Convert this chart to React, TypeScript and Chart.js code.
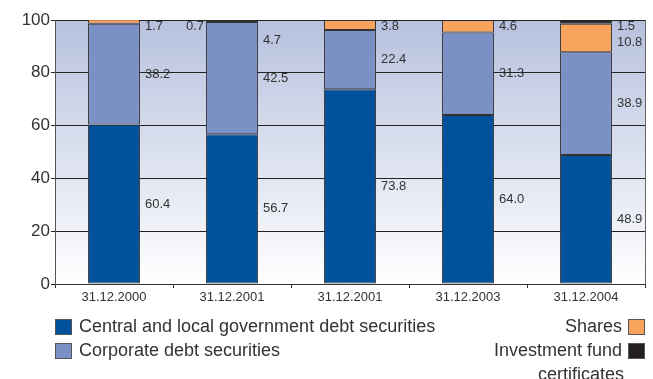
import React, { useEffect, useRef } from "react";
import { Chart, registerables } from "chart.js";

Chart.register(...registerables);

const categories = ["31.12.2000", "31.12.2001", "31.12.2001", "31.12.2003", "31.12.2004"];
const govDebt = [60.4, 56.7, 73.8, 64.0, 48.9];
const corpDebt = [38.2, 42.5, 22.4, 31.3, 38.9];
const shares = [1.7, 0.7, 3.8, 4.6, 10.8];
const fundCerts: (number | null)[] = [null, null, null, null, 1.5];
const extraNotes: (string | null)[] = [null, "4.7", null, null, null];
const shareLabelOnLeft = [false, true, false, false, false];

const seriesNames = [
  "Central and local government debt securities",
  "Corporate debt securities",
  "Shares",
  "Investment fund certificates",
];
const seriesColors = ["#02519b", "#7b91c5", "#f7a35c", "#231f20"];

const FONT = '"Liberation Sans", Arial, sans-serif';
const TEXT = "#333333";

const backgroundPlugin = {
  id: "bgGradient",
  beforeDraw(chart: any) {
    const { ctx, chartArea } = chart;
    const g = ctx.createLinearGradient(0, chartArea.top, 0, chartArea.bottom);
    g.addColorStop(0, "#b7c1de");
    g.addColorStop(1, "#ffffff");
    ctx.save();
    ctx.fillStyle = g;
    ctx.fillRect(chartArea.left, chartArea.top, chartArea.right - chartArea.left, chartArea.bottom - chartArea.top);
    ctx.restore();
  },
  afterDraw(chart: any) {
    const { ctx, chartArea } = chart;
    ctx.save();
    ctx.strokeStyle = "#666";
    ctx.lineWidth = 1;
    ctx.beginPath();
    ctx.moveTo(chartArea.right + 0.5, chartArea.top);
    ctx.lineTo(chartArea.right + 0.5, chartArea.bottom);
    ctx.stroke();
    ctx.restore();
  },
};

const valueLabelPlugin = {
  id: "valueLabels",
  afterDatasetsDraw(chart: any) {
    const { ctx, chartArea } = chart;
    ctx.save();
    ctx.font = `13px ${FONT}`;
    ctx.fillStyle = TEXT;
    ctx.textBaseline = "middle";
    const nDs = chart.data.datasets.length;
    for (let i = 0; i < categories.length; i++) {
      let prev = -Infinity;
      for (let d = nDs - 1; d >= 0; d--) {
        const v = chart.data.datasets[d].data[i];
        if (v === null || v === undefined) continue;
        const bar = chart.getDatasetMeta(d).data[i];
        const center = (bar.y + bar.base) / 2;
        let y = Math.max(center, chartArea.top + 6, prev + 16);
        prev = y;
        const text = Number(v).toFixed(1);
        const left = d === 2 && shareLabelOnLeft[i];
        if (left) {
          ctx.textAlign = "right";
          ctx.fillText(text, bar.x - bar.width / 2 - 2, y);
        } else {
          ctx.textAlign = "left";
          ctx.fillText(text, bar.x + bar.width / 2 + 5, y);
        }
        if (d === 2 && extraNotes[i]) {
          y = Math.max(center, chartArea.top + 6, prev + 14);
          prev = y;
          ctx.textAlign = "left";
          ctx.fillText(extraNotes[i] as string, bar.x + bar.width / 2 + 5, y);
        }
      }
    }
    ctx.restore();
  },
};

const legendPlugin = {
  id: "customLegend",
  afterDraw(chart: any) {
    const { ctx } = chart;
    ctx.save();
    ctx.font = `18px ${FONT}`;
    ctx.fillStyle = TEXT;
    ctx.textBaseline = "middle";
    const rowY = [327, 351];
    const box = (x: number, y: number, color: string) => {
      ctx.fillStyle = color;
      ctx.fillRect(x, y - 8, 17, 16);
      ctx.strokeStyle = "#555";
      ctx.lineWidth = 1;
      ctx.strokeRect(x + 0.5, y - 7.5, 16, 15);
      ctx.fillStyle = TEXT;
    };
    for (let k = 0; k < 2; k++) {
      box(55, rowY[k], seriesColors[k]);
      ctx.textAlign = "left";
      ctx.fillText(seriesNames[k], 79, rowY[k]);
    }
    box(628, rowY[0], seriesColors[2]);
    ctx.textAlign = "right";
    ctx.fillText(seriesNames[2], 622, rowY[0]);
    box(628, rowY[1], seriesColors[3]);
    const words = seriesNames[3].split(" ");
    ctx.fillText(words.slice(0, 2).join(" "), 622, rowY[1]);
    ctx.fillText(words.slice(2).join(" "), 624, rowY[1] + 24);
    ctx.restore();
  },
};

export default function App() {
  const canvasRef = useRef<HTMLCanvasElement | null>(null);

  useEffect(() => {
    if (!canvasRef.current) return;
    const mk = (label: string, data: (number | null)[], color: string) => ({
      label,
      data,
      backgroundColor: color,
      borderColor: "#333333",
      borderWidth: 1,
      borderSkipped: false,
      categoryPercentage: 1,
      barPercentage: 0.44,
    });
    const chart = new Chart(canvasRef.current, {
      type: "bar",
      data: {
        labels: categories,
        datasets: [
          mk(seriesNames[0], govDebt, seriesColors[0]),
          mk(seriesNames[1], corpDebt, seriesColors[1]),
          mk(seriesNames[2], shares, seriesColors[2]),
          mk(seriesNames[3], fundCerts, seriesColors[3]),
        ] as any,
      },
      options: {
        animation: false,
        responsive: false,
        devicePixelRatio: 1,
        layout: { padding: { top: 20, right: 8, left: 0, bottom: 0 } },
        plugins: {
          legend: { display: false },
          tooltip: { enabled: false },
        },
        scales: {
          x: {
            stacked: true,
            offset: true,
            grid: {
              offset: true,
              drawOnChartArea: false,
              color: "#333",
              tickLength: 4,
            },
            border: { color: "#333" },
            ticks: { font: { family: FONT, size: 13 }, color: TEXT, padding: 2, maxRotation: 0 },
            afterFit(scale: any) {
              scale.height = 95;
            },
          },
          y: {
            stacked: true,
            min: 0,
            max: 100,
            ticks: { stepSize: 20, font: { family: FONT, size: 17 }, color: TEXT, padding: 1 },
            grid: { color: "#222", lineWidth: 1, tickLength: 4 },
            border: { color: "#555" },
            afterFit(scale: any) {
              scale.width = 55;
            },
          },
        },
      },
      plugins: [backgroundPlugin, valueLabelPlugin, legendPlugin],
    });
    return () => chart.destroy();
  }, []);

  return (
    <div style={{ position: "absolute", left: 0, top: 0, width: 653, height: 379, background: "#fff" }}>
      <canvas ref={canvasRef} width={653} height={379} />
    </div>
  );
}
